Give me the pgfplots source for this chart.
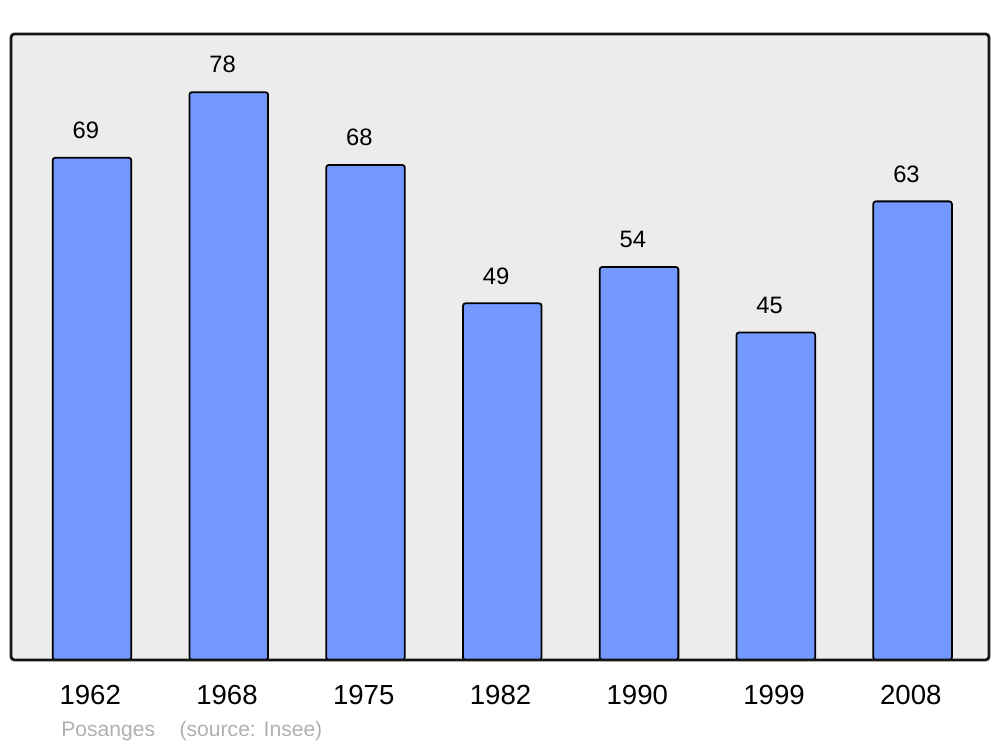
\documentclass[border=0pt]{standalone}
\usepackage{pgfplots}
\pgfplotsset{compat=1.18}
\usepackage{fontspec}
\setmainfont{Liberation Sans}
\definecolor{bgc}{RGB}{236,236,236}
\definecolor{barc}{RGB}{115,152,255}
\definecolor{srcc}{RGB}{176,176,176}
\begin{document}
\begin{tikzpicture}
\useasboundingbox (0pt,0pt) rectangle (569.1pt,425.12pt);
\begin{axis}[
  at={(6.26pt,49.51pt)}, anchor=south west,
  scale only axis, width=556.6pt, height=356.3pt,
  xmin=-0.592, xmax=6.559, ymin=0, ymax=86,
  axis line style={draw=none},
  axis background/.style={fill=bgc, rounded corners=2pt},
  ytick=\empty,
  xtick={0,1,2,3,4,5,6},
  xticklabels={1962,1968,1975,1982,1990,1999,2008},
  xtick style={draw=none},
  xticklabel style={font=\fontsize{15.7pt}{18pt}\selectfont, yshift=-11pt, xshift=-1pt},
  clip=false,
  /pgf/number format/assume math mode=true,
]
\addplot[ybar, bar width=0.575, fill=barc, draw=black, line width=1pt, rounded corners=1.5pt,
  nodes near coords,
  every node near coord/.append style={font=\fontsize{13.5pt}{16pt}\selectfont, anchor=south, yshift=7pt, xshift=-3.5pt, text=black}]
  coordinates {(0,69) (1,78) (2,68) (3,49) (4,54) (5,45) (6,63)};
\draw[line width=1.6pt, rounded corners=2pt, color=black!92] (rel axis cs:0,0) rectangle (rel axis cs:1,1);
\end{axis}
\node[anchor=west, text=srcc, font=\fontsize{12pt}{14pt}\selectfont, inner sep=0pt] at (34.7pt,8.9pt) {Posanges\hspace{14pt}(source: Insee)};
\end{tikzpicture}
\end{document}
